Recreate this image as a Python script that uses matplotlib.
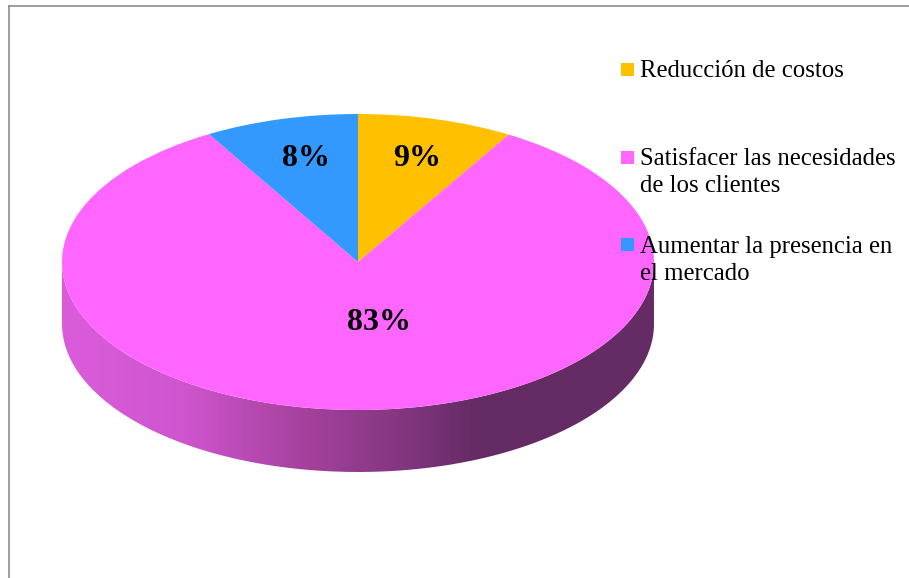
import numpy as np
import matplotlib
matplotlib.use("Agg")
import matplotlib.pyplot as plt
from matplotlib.colors import LinearSegmentedColormap
from matplotlib.patches import PathPatch, Rectangle
from matplotlib.path import Path

categories = ["Reducción de costos",
              "Satisfacer las necesidades\nde los clientes",
              "Aumentar la presencia en\nel mercado"]
values = [8.5, 83.1, 8.4]
value_labels = ["9%", "83%", "8%"]
colors = ["#FFC000", "#FF66FF", "#3399FF"]

W, H = 909, 578
fig = plt.figure(figsize=(W / 100, H / 100), dpi=100, facecolor="white")


def fx(px):
    return px / W


def fy(py):
    return 1 - py / H


# pie axes: top ellipse box plus the rim depth, in pixels
L, R, T, B, D = 62, 654, 114, 410, 62
depth = D / ((B - T) / 2)
ax = fig.add_axes([fx(L), fy(B + D), (R - L) / W, (B + D - T) / H])
wedges, _ = ax.pie(values, colors=colors, startangle=90, counterclock=False,
                   radius=1, wedgeprops=dict(linewidth=0))
for w in wedges:
    w.set_zorder(3)

# rim with horizontal gradient
t = np.linspace(np.pi, 2 * np.pi, 200)
xs = np.cos(t)
ys = np.sin(t)
verts = np.r_[np.c_[xs, ys], np.c_[xs[::-1], ys[::-1] - depth], [[xs[0], ys[0]]]]
rim = PathPatch(Path(verts), transform=ax.transData, fc="none", ec="none")
ax.add_patch(rim)
cmap = LinearSegmentedColormap.from_list(
    "rim", [(0, "#DB5CDB"), (0.2, "#CF55CF"), (0.40, "#A7429F"),
            (0.58, "#82367F"), (0.70, "#652B65"), (1, "#652B65")])
im = ax.imshow(np.linspace(0, 1, 400)[None, :], cmap=cmap, aspect="auto",
               extent=(-1, 1, -1 - depth, 0), zorder=1)
im.set_clip_path(rim)
ax.set_aspect("auto")
ax.set_xlim(-1, 1)
ax.set_ylim(-1 - depth, 1)
ax.axis("off")

# percentage labels
label_pos = [(417, 159), (379, 322), (306, 158)]
for lab, (px, py) in zip(value_labels, label_pos):
    fig.text(fx(px), fy(py), lab, family="Liberation Serif", weight="bold",
             fontsize=23, ha="center", va="center", zorder=6)

# legend: swatch centre and baseline of the last text line
leg_y = [70, 158, 245]
leg_base = [77, 192, 280]
for c, lab, py, by in zip(colors, categories, leg_y, leg_base):
    fig.add_artist(Rectangle((fx(621), fy(py + 6)), 13 / W, 13 / H, fc=c, ec="none",
                             transform=fig.transFigure, zorder=6))
    fig.text(fx(640), fy(by), lab, family="Liberation Serif", fontsize=17.8,
             ha="left", va="baseline", linespacing=1.32, color="black", zorder=7)

# outer frame: top and left lines only
frame = "#8C8C8C"
fig.add_artist(plt.Line2D([fx(8.5), 1], [fy(5.5), fy(5.5)], color=frame, lw=1.2,
                          transform=fig.transFigure))
fig.add_artist(plt.Line2D([fx(8.5), fx(8.5)], [fy(5.5), 0], color=frame, lw=1.2,
                          transform=fig.transFigure))

fig.savefig("out.png", dpi=100)
